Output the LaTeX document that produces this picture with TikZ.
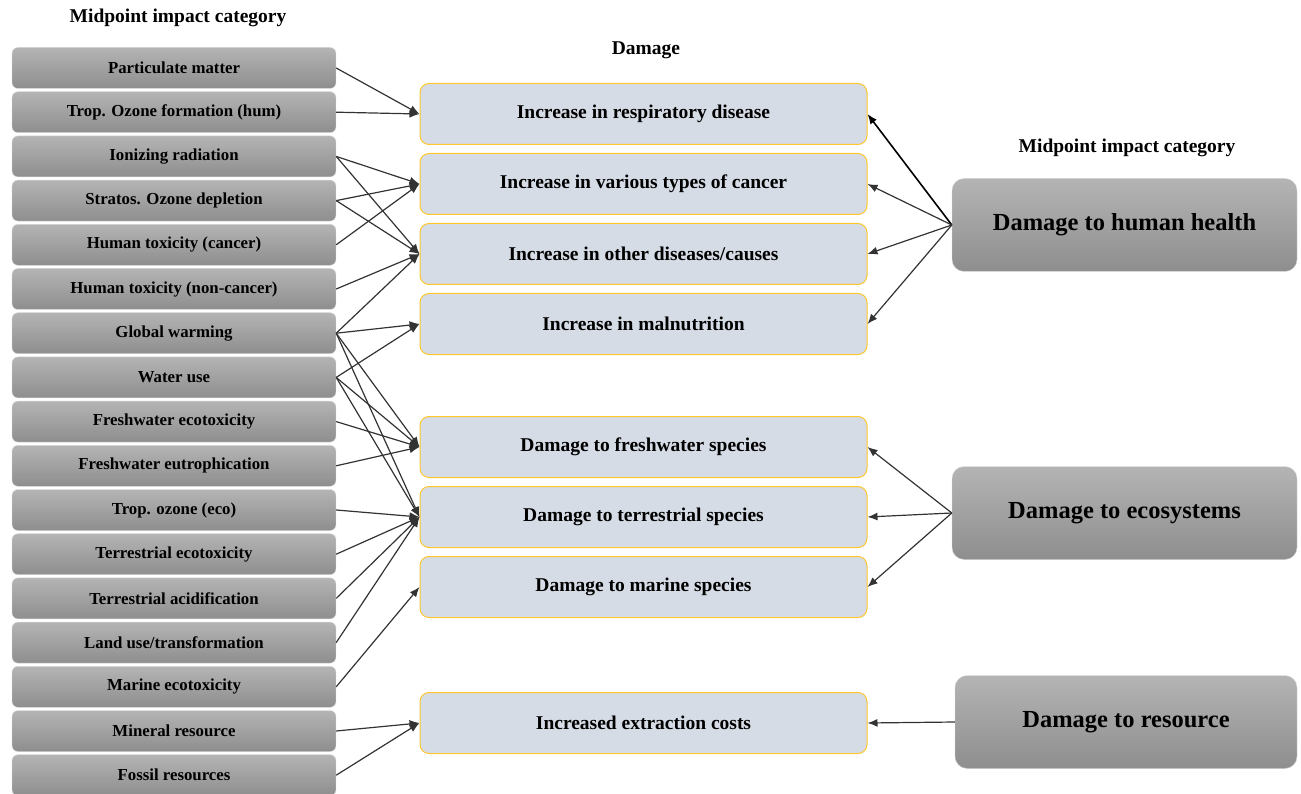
\documentclass[tikz,border=0pt]{standalone}
\usepackage{fontspec}
\setmainfont{Liberation Serif}
\usetikzlibrary{positioning,shapes,arrows,arrows.meta}
\definecolor{impacttop}{HTML}{B4B4B4}
\definecolor{impactbot}{HTML}{8E8E8E}
\definecolor{damagefill}{HTML}{D6DCE5}
\definecolor{damageline}{HTML}{FFC72C}
\tikzstyle{midpoint}=[rectangle, rounded corners=6pt, top color=impacttop, bottom color=impactbot,
        draw=black!15, text centered, minimum width=324pt, minimum height=41pt,
        font=\fontsize{16.8}{19}\selectfont\bfseries]
\tikzstyle{damage}=[rectangle, rounded corners=9pt, fill=damagefill, draw=damageline, line width=1pt,
        text centered, minimum width=447pt, minimum height=61pt,
        font=\fontsize{19.5}{22}\selectfont\bfseries]
\tikzstyle{endpoint}=[rectangle, rounded corners=12pt, top color=impacttop, bottom color=impactbot,
        draw=black!15, text centered, minimum width=345pt, minimum height=93pt,
        font=\fontsize{24.5}{28}\selectfont\bfseries]
\tikzstyle{heading}=[font=\fontsize{19.5}{22}\selectfont\bfseries]
\tikzstyle{link}=[-{Latex[length=10pt,width=8pt]}, draw=black!80, line width=1.2pt]

\begin{document}
\begin{tikzpicture}[x=1pt, y=1pt, node distance=2.8pt]
        \useasboundingbox (0,0) rectangle (1301,-794);
        % headings
        \node (lefthead) [heading] at (178,-18) {Midpoint impact category};
        \node (damagehead) [heading] at (646,-50) {Damage};
        \node (righthead) [heading] at (1127,-148) {Midpoint impact category};
        % midpoint categories
        \node (pm) [midpoint] at (174,-68) {Particulate matter};
        \node (tropozone) [midpoint, below=of pm] {Trop. Ozone formation (hum)};
        \node (ionizing) [midpoint, below=of tropozone] {Ionizing radiation};
        \node (stratos) [midpoint, below=of ionizing] {Stratos. Ozone depletion};
        \node (humcancer) [midpoint, below=of stratos] {Human toxicity (cancer)};
        \node (humnoncancer) [midpoint, below=of humcancer] {Human toxicity (non-cancer)};
        \node (warming) [midpoint, below=of humnoncancer] {Global warming};
        \node (water) [midpoint, below=of warming] {Water use};
        \node (fwecotox) [midpoint, below=of water] {Freshwater ecotoxicity};
        \node (fweutro) [midpoint, below=of fwecotox] {Freshwater eutrophication};
        \node (tropeco) [midpoint, below=of fweutro] {Trop. ozone (eco)};
        \node (terrecotox) [midpoint, below=of tropeco] {Terrestrial ecotoxicity};
        \node (terracid) [midpoint, below=of terrecotox] {Terrestrial acidification};
        \node (landuse) [midpoint, below=of terracid] {Land use/transformation};
        \node (marineecotox) [midpoint, below=of landuse] {Marine ecotoxicity};
        \node (mineral) [midpoint, below=of marineecotox] {Mineral resource};
        \node (fossil) [midpoint, below=of mineral] {Fossil resources};
        % damage
        \node (respiratory) [damage] at (643.5,-114) {Increase in respiratory disease};
        \node (cancer) [damage, below=8pt of respiratory] {Increase in various types of cancer};
        \node (otherdis) [damage, below=8pt of cancer] {Increase in other diseases/causes};
        \node (malnutrition) [damage, below=8pt of otherdis] {Increase in malnutrition};
        \node (freshsp) [damage] at (643.5,-447) {Damage to freshwater species};
        \node (terrsp) [damage, below=8pt of freshsp] {Damage to terrestrial species};
        \node (marinesp) [damage, below=8pt of terrsp] {Damage to marine species};
        \node (extraction) [damage] at (643.5,-723) {Increased extraction costs};
        % endpoints
        \node (health) [endpoint] at (1124.5,-225) {Damage to human health};
        \node (ecosystems) [endpoint] at (1124.5,-513) {Damage to ecosystems};
        \node (resource) [endpoint, minimum width=342pt] at (1126,-722) {Damage to resource};
        % links
        \foreach \from/\to in {pm/respiratory, tropozone/respiratory, ionizing/cancer, ionizing/otherdis,
                stratos/cancer, stratos/otherdis, humcancer/cancer, humnoncancer/otherdis,
                warming/otherdis, warming/malnutrition, warming/freshsp, warming/terrsp,
                water/malnutrition, water/freshsp, water/terrsp, fwecotox/freshsp, fweutro/freshsp,
                tropeco/terrsp, terrecotox/terrsp, terracid/terrsp, landuse/terrsp,
                marineecotox/marinesp, mineral/extraction, fossil/extraction}
          \draw[link] (\from.east) -- (\to.west);
        \draw[link, draw=black, line width=1.6pt] (health.west) -- (respiratory.east);
        \foreach \to in {cancer, otherdis, malnutrition}
          \draw[link] (health.west) -- (\to.east);
        \foreach \to in {freshsp, terrsp, marinesp}
          \draw[link] (ecosystems.west) -- (\to.east);
        \draw[link] (resource.west) -- (extraction.east);
\end{tikzpicture}
\end{document}
